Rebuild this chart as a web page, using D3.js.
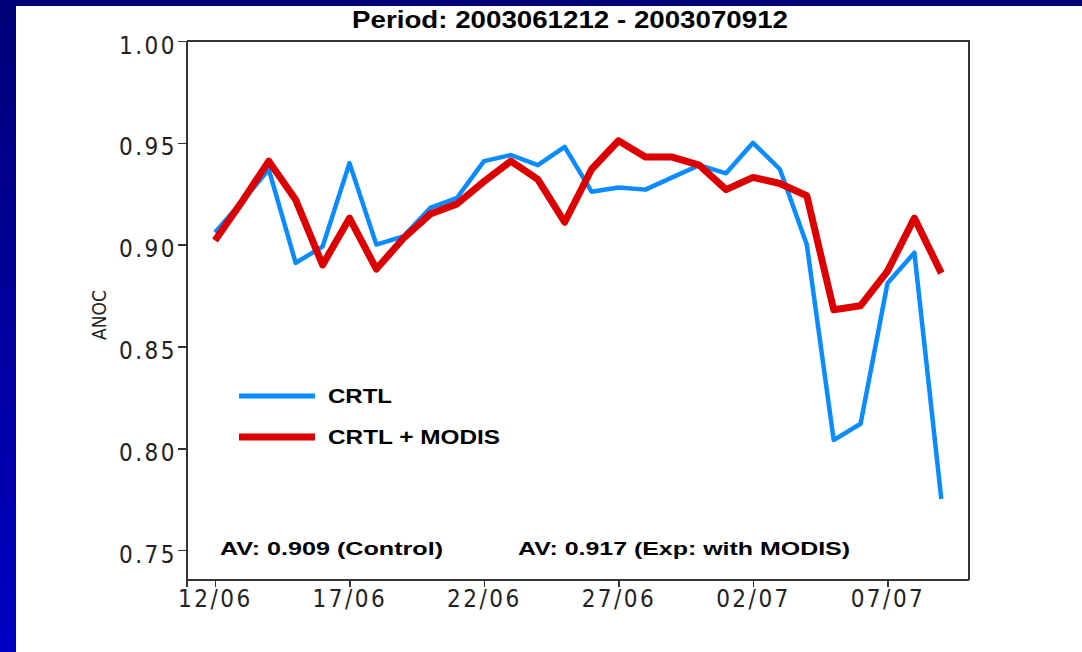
<!DOCTYPE html>
<head>
  <meta charset='utf-8'>
  <style>
      body { margin: 0; background: #fff; }
      .frame, .axis path, .axis line {
        stroke: #333;
        stroke-width: 1.6px;
        fill: none;
        shape-rendering: crispEdges;
      }
      .axis text {
        font-family: 'DejaVu Sans Condensed', 'Liberation Sans Narrow', sans-serif;
        font-size: 24px;
        letter-spacing: 2.5px;
        fill: #222;
      }
      .line {
        fill: none;
        stroke-linejoin: round;
      }
      .bold {
        font-family: 'Liberation Sans', Arial, sans-serif;
        font-weight: bold;
        fill: #000;
      }
  </style>
</head>
<body>
<script src='https://d3js.org/d3.v7.min.js'></script>
<script>
    // one value per day at 12 UTC, 12/06/2003 .. 09/07/2003
    var days = d3.range(0, 28);
    var crtl = [0.906, 0.921, 0.937, 0.891, 0.899, 0.940, 0.900, 0.904, 0.918, 0.923,
                0.941, 0.944, 0.939, 0.948, 0.926, 0.928, 0.927, 0.933, 0.939, 0.935,
                0.950, 0.937, 0.900, 0.804, 0.812, 0.881, 0.896, 0.775];
    var modis = [0.902, 0.921, 0.941, 0.922, 0.890, 0.913, 0.888, 0.903, 0.915, 0.920,
                 0.931, 0.941, 0.932, 0.911, 0.937, 0.951, 0.943, 0.943, 0.939, 0.927,
                 0.933, 0.930, 0.924, 0.868, 0.870, 0.887, 0.913, 0.886];
    var xTickDays = [0, 5, 10, 15, 20, 25];
    var xTickLabels = ['12/06', '17/06', '22/06', '27/06', '02/07', '07/07'];
    var yTicks = [0.75, 0.80, 0.85, 0.90, 0.95, 1.00];
    var seriesNames = ['CRTL', 'CRTL + MODIS'];
    var seriesColors = ['#0a8cff', '#dd0000'];
    var averages = ['AV: 0.909 (Control)', 'AV: 0.917 (Exp: with MODIS)'];

    var W = 1082, H = 652,
        pLeft = 187, pRight = 969, pTop = 41, pBottom = 580;

    var x = d3.scaleLinear().domain([-1.04, 28.03]).range([pLeft, pRight]),
        y = d3.scaleLinear().domain([0.75, 1.00]).range([550, pTop]);

    var svg = d3.select('body').append('svg')
        .attr('width', W)
        .attr('height', H);

    // slide background: navy strip on top, gradient strip on the left
    var grad = svg.append('defs').append('linearGradient')
        .attr('id', 'side')
        .attr('x1', 0).attr('y1', 0).attr('x2', 0).attr('y2', 1);
    grad.append('stop').attr('offset', 0).attr('stop-color', '#000078');
    grad.append('stop').attr('offset', 1).attr('stop-color', '#0000c4');
    svg.append('rect').attr('width', W).attr('height', H).attr('fill', '#fff');
    svg.append('rect').attr('width', W).attr('height', 6).attr('fill', '#00007a');
    svg.append('rect').attr('width', 16).attr('height', H).attr('fill', 'url(#side)');

    svg.append('text')
        .attr('class', 'bold')
        .attr('x', 570).attr('y', 28)
        .attr('text-anchor', 'middle')
        .attr('font-size', 24)
        .attr('textLength', 436)
        .attr('lengthAdjust', 'spacingAndGlyphs')
        .text('Period: 2003061212 - 2003070912');

    // box
    svg.append('path')
        .attr('class', 'frame')
        .attr('d', 'M' + pLeft + ',' + pTop + 'H' + pRight + 'V' + pBottom);

    var yAxis = d3.axisLeft(y)
        .tickValues(yTicks)
        .tickSize(9)
        .tickPadding(1)
        .tickFormat(d3.format('.2f'));
    var yg = svg.append('g')
        .attr('class', 'axis')
        .attr('transform', 'translate(' + pLeft + ',0)')
        .call(yAxis);
    yg.select('.domain').remove();
    yg.selectAll('text').attr('dy', '0.5em');
    svg.append('line')
        .attr('class', 'frame')
        .attr('x1', pLeft).attr('x2', pLeft)
        .attr('y1', pTop).attr('y2', pBottom + 7);

    var xAxis = d3.axisBottom(x)
        .tickValues(xTickDays)
        .tickSize(7)
        .tickPadding(3)
        .tickFormat(function(d, i) { return xTickLabels[i]; });
    var xg = svg.append('g')
        .attr('class', 'axis')
        .attr('transform', 'translate(0,' + pBottom + ')')
        .call(xAxis);
    xg.select('.domain').attr('d', 'M' + pLeft + ',0H' + pRight);

    svg.append('text')
        .attr('transform', 'translate(106,315) rotate(-90)')
        .attr('text-anchor', 'middle')
        .attr('font-family', 'DejaVu Sans Condensed, sans-serif')
        .attr('font-size', 19)
        .attr('fill', '#222')
        .text('ANOC');

    var line = d3.line()
        .x(function(d, i) { return x(days[i]); })
        .y(function(d) { return y(d); });

    svg.append('path')
        .datum(crtl)
        .attr('class', 'line')
        .attr('stroke', seriesColors[0])
        .attr('stroke-width', 4.5)
        .attr('d', line);
    svg.append('path')
        .datum(modis)
        .attr('class', 'line')
        .attr('stroke', seriesColors[1])
        .attr('stroke-width', 7)
        .attr('d', line);

    // legend
    var legend = svg.append('g').selectAll('g')
        .data(seriesNames)
        .enter().append('g')
        .attr('transform', function(d, i) { return 'translate(239,' + (396 + i * 41) + ')'; });
    legend.append('line')
        .attr('x1', 0).attr('x2', 76)
        .attr('stroke', function(d, i) { return seriesColors[i]; })
        .attr('stroke-width', function(d, i) { return i ? 7 : 5; });
    legend.append('text')
        .attr('class', 'bold')
        .attr('x', 89).attr('y', 7)
        .attr('font-size', 20)
        .attr('textLength', function(d, i) { return i ? 172 : 64; })
        .attr('lengthAdjust', 'spacingAndGlyphs')
        .text(function(d) { return d; });

    svg.selectAll('.avg')
        .data(averages)
        .enter().append('text')
        .attr('class', 'bold avg')
        .attr('x', function(d, i) { return i ? 518 : 220; })
        .attr('y', 555)
        .attr('font-size', 19)
        .attr('textLength', function(d, i) { return i ? 332 : 223; })
        .attr('lengthAdjust', 'spacingAndGlyphs')
        .text(function(d) { return d; });
</script>
</body>
